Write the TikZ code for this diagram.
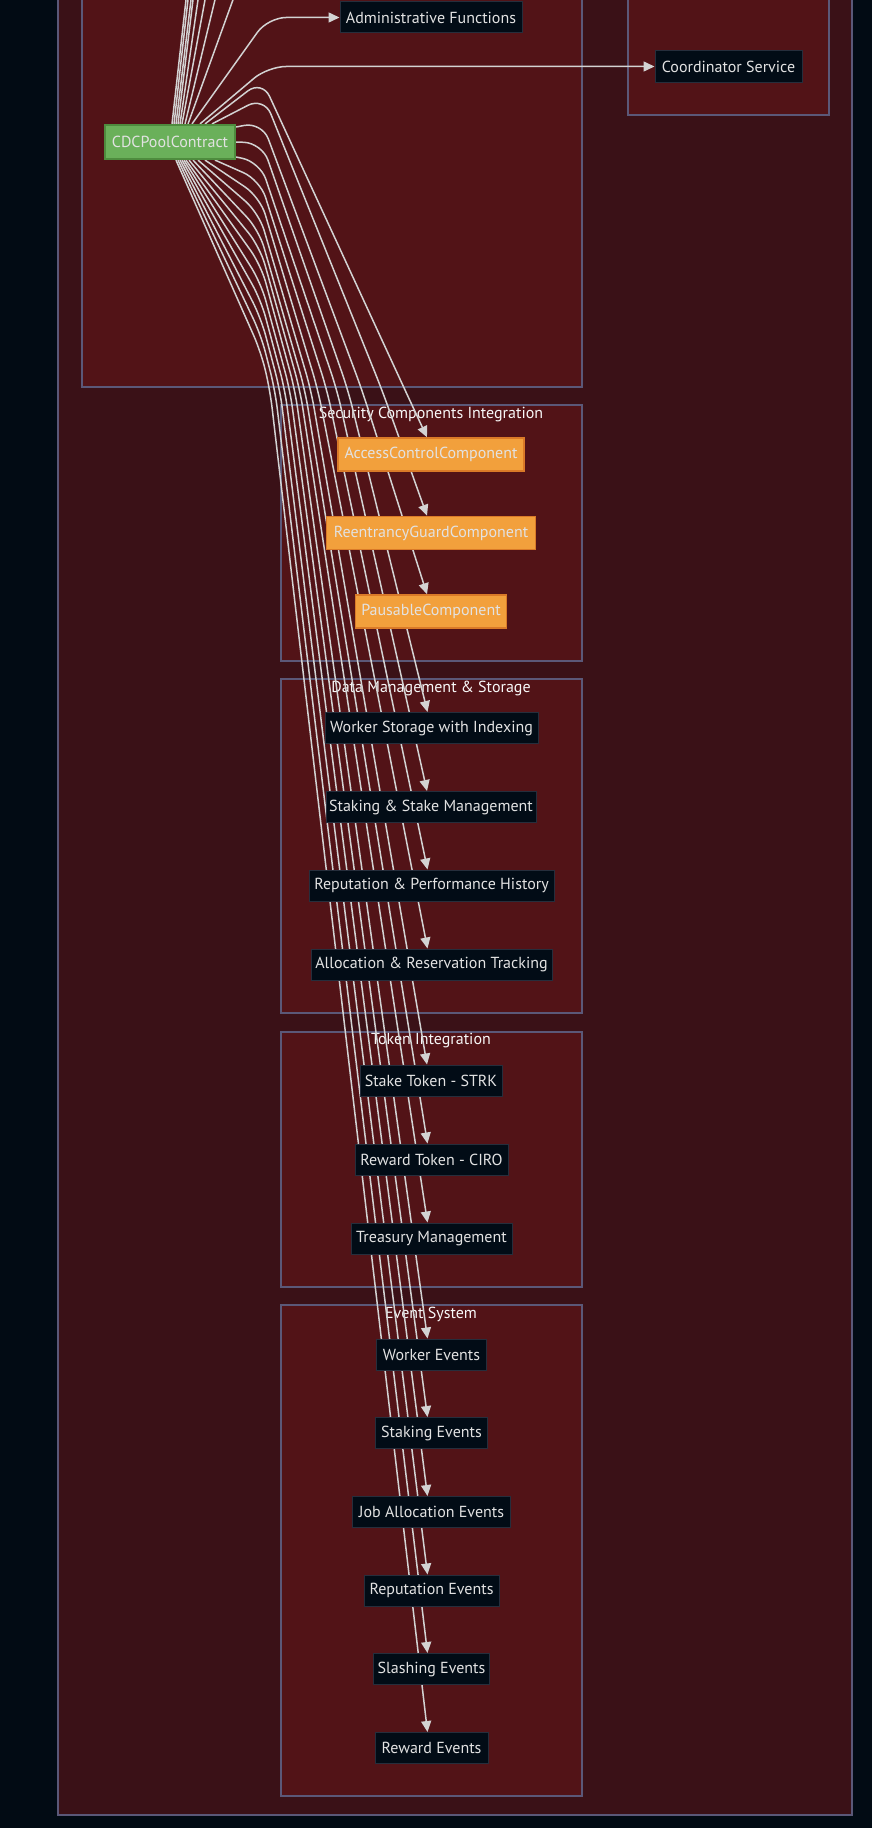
\documentclass[tikz,border=0pt]{standalone}
\usepackage{fontspec}
\setmainfont{PT Sans}
\usetikzlibrary{arrows.meta}
\definecolor{bgc}{HTML}{020B14}
\definecolor{outerc}{HTML}{3A1117}
\definecolor{innerc}{HTML}{521317}
\definecolor{borderc}{HTML}{5B5878}
\definecolor{nodef}{HTML}{020C16}
\definecolor{nodeb}{HTML}{262E3C}
\definecolor{edgec}{HTML}{D3D3D3}
\definecolor{txtc}{HTML}{E2E2E2}
\definecolor{titlec}{HTML}{F8F8F8}
\definecolor{greenf}{HTML}{6AB05A}
\definecolor{greenb}{HTML}{4E8C3E}
\definecolor{orangef}{HTML}{F2A03C}
\definecolor{orangeb}{HTML}{DA7A28}
\pgfdeclarelayer{bg}
\pgfdeclarelayer{edgelayer}
\pgfsetlayers{bg,edgelayer,main}
\begin{document}
\begin{tikzpicture}[x=1pt,y=-1pt,
  outerbox/.style={fill=outerc, draw=borderc, line width=1.3pt},
  cluster/.style={fill=innerc, draw=borderc, line width=1.3pt},
  ctitle/.style={text=titlec, font=\fontsize{16}{19}\selectfont, inner sep=0pt},
  box/.style={draw=nodeb, fill=nodef, line width=1pt, text=txtc, font=\fontsize{16}{19}\selectfont, minimum height=31pt, inner sep=0pt},
  obox/.style={box, draw=orangeb, fill=orangef, line width=1.5pt, minimum height=33pt},
  gbox/.style={box, draw=greenb, fill=greenf, line width=2.2pt, minimum height=34pt},
  edge/.style={draw=edgec, line width=1.5pt, rounded corners=18pt, -{Triangle[length=11pt,width=10pt]}},
  upedge/.style={draw=edgec, line width=1.5pt}]
\useasboundingbox (0,0) rectangle (872,1828);
\clip (0,0) rectangle (872,1828);

% nodes
\node[gbox, minimum width=130pt] (cdc) at (170,142) {CDCPoolContract};
\node[box, minimum width=182pt] (adm) at (431,17.5) {Administrative Functions};
\node[box, minimum width=147pt] (coo) at (728.5,66.5) {Coordinator Service};
\node[obox, minimum width=186pt] (acc) at (431,454.5) {AccessControlComponent};
\node[obox, minimum width=209pt] (ren) at (431,533) {ReentrancyGuardComponent};
\node[obox, minimum width=151pt] (pau) at (431,611.5) {PausableComponent};
\node[box, minimum width=213pt] (wst) at (431.5,728) {Worker Storage with Indexing};
\node[box, minimum width=210pt] (stk) at (431,807) {Staking \& Stake Management};
\node[box, minimum width=245pt] (rep) at (431.5,885.5) {Reputation \& Performance History};
\node[box, minimum width=241pt] (alc) at (431.5,964.5) {Allocation \& Reservation Tracking};
\node[box, minimum width=142pt] (stt) at (431,1080.5) {Stake Token - STRK};
\node[box, minimum width=153pt] (rwt) at (431.5,1159.5) {Reward Token - CIRO};
\node[box, minimum width=161pt] (tre) at (431.5,1238.5) {Treasury Management};
\node[box, minimum width=110pt] (wev) at (431.5,1354.5) {Worker Events};
\node[box, minimum width=112pt] (sev) at (431.5,1433) {Staking Events};
\node[box, minimum width=158pt] (jev) at (431.5,1512) {Job Allocation Events};
\node[box, minimum width=135pt] (rev) at (431.5,1590.5) {Reputation Events};
\node[box, minimum width=116pt] (slv) at (431.5,1669) {Slashing Events};
\node[box, minimum width=113pt] (rwv) at (431.5,1748) {Reward Events};

\coordinate (up1) at (190.5,-40);
\coordinate (up2) at (192.5,-40);
\coordinate (up3) at (195.8,-40);
\coordinate (up4) at (197.8,-40);
\coordinate (up5) at (203.8,-40);
\coordinate (up6) at (212.4,-40);
\coordinate (up7) at (224.6,-40);
\coordinate (up8) at (247.4,-40);

\begin{pgfonlayer}{bg}
\fill[bgc] (0,0) rectangle (872,1828);
\draw[outerbox] (58,-60) rectangle (852,1815);
\draw[cluster] (82,-60) rectangle (582,387);
\draw[cluster] (628,-60) rectangle (829,115);
\draw[cluster] (281,405) rectangle (582,661);
\draw[cluster] (281,679) rectangle (582,1013);
\draw[cluster] (281,1032) rectangle (582,1287);
\draw[cluster] (281,1305) rectangle (582,1796);
\node[ctitle] (t1) at (431,414) {Security Components Integration};
\node[ctitle] (t2) at (431,688) {Data Management \& Storage};
\node[ctitle] (t3) at (431,1041) {Token Integration};
\node[ctitle] (t4) at (431,1314) {Event System};
\end{pgfonlayer}

\begin{pgfonlayer}{edgelayer}
% edges leaving upwards, out of the frame
\draw[upedge] ([xshift=2pt]cdc.north) -- (up1);
\draw[upedge] ([xshift=4pt]cdc.north) -- (up2);
\draw[upedge] ([xshift=6pt]cdc.north) -- (up3);
\draw[upedge] ([xshift=8pt]cdc.north) -- (up4);
\draw[upedge] ([xshift=10pt]cdc.north) -- (up5);
\draw[upedge] ([xshift=12pt]cdc.north) -- (up6);
\draw[upedge] ([xshift=15pt]cdc.north) -- (up7);
\draw[upedge] ([xshift=18pt]cdc.north) -- (up8);
% edges to visible targets
\draw[edge] ([xshift=22pt]cdc.north) -- (268,17.5) -- (adm.west);
\draw[edge] ([xshift=30pt]cdc.north) -- (268,66.5) -- (coo.west);
\draw[edge] ([xshift=35pt]cdc.north) -- (262,80) -- (405,390) -- ([xshift=-4pt]acc.north);
\draw[edge] ([xshift=42pt]cdc.north) -- (264,97) -- (382,390) -- ([xshift=-4pt]ren.north);
\draw[edge] ([yshift=15pt]cdc.east) -- (262,122) -- (362,390) -- ([xshift=-4pt]pau.north);
\draw[edge] (cdc.east) -- (262,143) -- (348,390) -- ([xshift=-4pt]wst.north);
\draw[edge] ([yshift=-15pt]cdc.east) -- (260,162) -- (337,390) -- ([xshift=-4pt]stk.north);
\draw[edge] ([xshift=45pt]cdc.south) -- (260,180) -- (327,390) -- ([xshift=-4pt]rep.north);
\draw[edge] ([xshift=35pt]cdc.south) -- (260,197) -- (318,390) -- ([xshift=-4pt]alc.north);
\draw[edge] ([xshift=28pt]cdc.south) -- (259,213) -- (311,390) -- ([xshift=-4pt]stt.north);
\draw[edge] ([xshift=23pt]cdc.south) -- (259,230) -- (305,390) -- ([xshift=-4pt]rwt.north);
\draw[edge] ([xshift=19pt]cdc.south) -- (260,247) -- (300,390) -- ([xshift=-4pt]tre.north);
\draw[edge] ([xshift=16pt]cdc.south) -- (261,265) -- (295,390) -- ([xshift=-4pt]wev.north);
\draw[edge] ([xshift=14pt]cdc.south) -- (261,283) -- (290,390) -- ([xshift=-4pt]sev.north);
\draw[edge] ([xshift=12pt]cdc.south) -- (261,300) -- (285,390) -- ([xshift=-4pt]jev.north);
\draw[edge] ([xshift=10pt]cdc.south) -- (261,318) -- (280,390) -- ([xshift=-4pt]rev.north);
\draw[edge] ([xshift=8pt]cdc.south) -- (261,335) -- (275,390) -- ([xshift=-4pt]slv.north);
\draw[edge] ([xshift=6pt]cdc.south) -- (261,352) -- (270,390) -- ([xshift=-4pt]rwv.north);
\end{pgfonlayer}
\end{tikzpicture}
\end{document}
